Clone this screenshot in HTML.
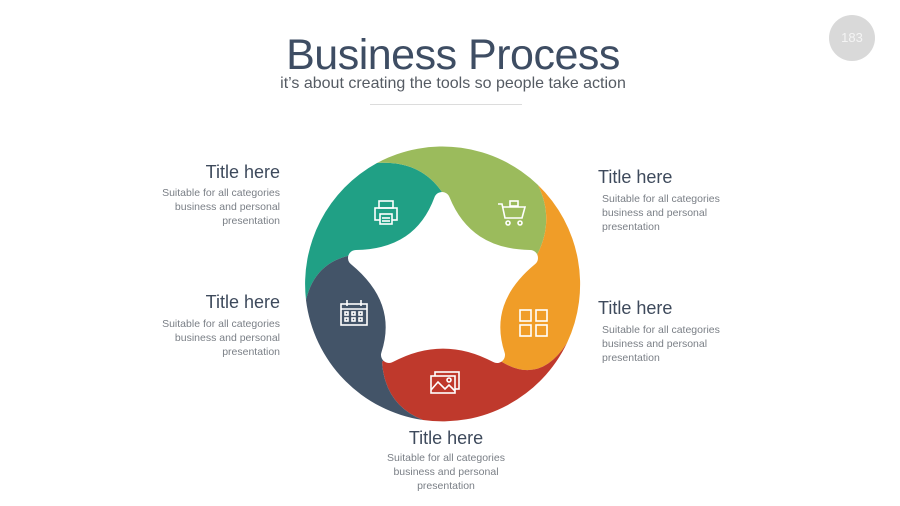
<!DOCTYPE html>
<html><head><meta charset="utf-8"><style>
html,body{margin:0;padding:0;background:#fff;}
body{width:900px;height:506px;position:relative;overflow:hidden;font-family:"Liberation Sans",sans-serif;}
.t{position:absolute;color:#3e4a5c;font-size:18px;line-height:22px;white-space:nowrap;}
.b{position:absolute;color:#7a7f86;font-size:10.5px;line-height:13.8px;white-space:nowrap;}
.r{text-align:right;}
.c{text-align:center;}
</style></head><body>
<div style="position:absolute;left:829px;top:15px;width:46px;height:46px;border-radius:50%;background:#d9d9d9;color:#f4f4f4;font-size:13px;line-height:46px;text-align:center;">183</div>
<div style="position:absolute;left:0;width:906px;top:30px;text-align:center;font-size:43px;line-height:50px;color:#3e4d63;letter-spacing:-0.5px;">Business Process</div>
<div style="position:absolute;left:0;width:906px;top:74px;text-align:center;font-size:16px;line-height:20px;color:#555b63;">it’s about creating the tools so people take action</div>
<div style="position:absolute;left:370px;top:104px;width:152px;height:1px;background:#dcdcdc;"></div>

<svg width="900" height="506" style="position:absolute;left:0;top:0">
<g>
<path fill="#20a085" d="M443 288 L352 255 Q315 262 306 300 A138 138 0 0 1 377 163 Q420 160 442 192 Z"/>
<path fill="#9bbb5c" d="M443 288 L442 192 Q420 160 377 163 A138 138 0 0 1 538 185 Q555 220 537 255 Z"/>
<path fill="#f09d28" d="M443 288 L537 255 Q555 220 538 185 A138 138 0 0 1 567 343 Q540 385 502 362 Z"/>
<path fill="#bf392c" d="M443 288 L502 362 Q540 385 567 343 A138 138 0 0 1 423 420 Q385 405 382 362 Z"/>
<path fill="#435468" d="M443 288 L382 362 Q385 405 423 420 A138 138 0 0 1 306 300 Q315 262 352 255 Z"/>
</g>
<path fill="#fff" stroke="#fff" stroke-width="16" stroke-linejoin="round"
 d="M442 200 Q465 257 530 258 Q479 300 497 355 Q443 326 389 355 Q407 300 356 258 Q421 257 442 200 Z"/>
<g fill="none" stroke="#fff" stroke-width="1.6">
<rect x="379" y="201" width="14" height="7"/><rect x="375" y="208" width="22" height="12"/><rect x="380" y="214" width="12" height="10" fill="#20a085"/><line x1="382" y1="218" x2="390" y2="218"/><line x1="382" y1="221" x2="390" y2="221"/>
<path d="M498 204 L502 204 L505 218 L522 218 L525 207 L503 207"/><circle cx="508" cy="223" r="2"/><circle cx="520" cy="223" r="2"/><rect x="510" y="201" width="8" height="5"/>
<rect x="341" y="304" width="26" height="21"/><line x1="341" y1="309" x2="367" y2="309"/><line x1="347" y1="300" x2="347" y2="306"/><line x1="361" y1="300" x2="361" y2="306"/>
<rect x="345" y="312" width="3" height="3"/><rect x="352" y="312" width="3" height="3"/><rect x="359" y="312" width="3" height="3"/><rect x="345" y="318" width="3" height="3"/><rect x="352" y="318" width="3" height="3"/><rect x="359" y="318" width="3" height="3"/>
<rect x="520" y="310" width="11" height="11"/><rect x="536" y="310" width="11" height="11"/><rect x="520" y="325" width="11" height="11"/><rect x="536" y="325" width="11" height="11"/>
<rect x="435" y="372" width="24" height="17"/><rect x="431" y="376" width="24" height="17" fill="#bf392c"/><path d="M431 390 L438 382 L445 389 L449 385 L455 391"/><circle cx="449" cy="380" r="2"/>
</g>
</svg>

<div class="t r" style="left:140px;width:140px;top:161px;">Title here</div>
<div class="b r" style="left:120px;width:160px;top:187px;">Suitable for all categories<br>business and personal<br>presentation</div>
<div class="t r" style="left:140px;width:140px;top:291px;">Title here</div>
<div class="b r" style="left:120px;width:160px;top:318px;">Suitable for all categories<br>business and personal<br>presentation</div>
<div class="t" style="left:598px;top:166px;">Title here</div>
<div class="b" style="left:602px;top:193px;">Suitable for all categories<br>business and personal<br>presentation</div>
<div class="t" style="left:598px;top:297px;">Title here</div>
<div class="b" style="left:602px;top:324px;">Suitable for all categories<br>business and personal<br>presentation</div>
<div class="t c" style="left:346px;width:200px;top:427px;">Title here</div>
<div class="b c" style="left:346px;width:200px;top:452px;">Suitable for all categories<br>business and personal<br>presentation</div>
</body></html>
